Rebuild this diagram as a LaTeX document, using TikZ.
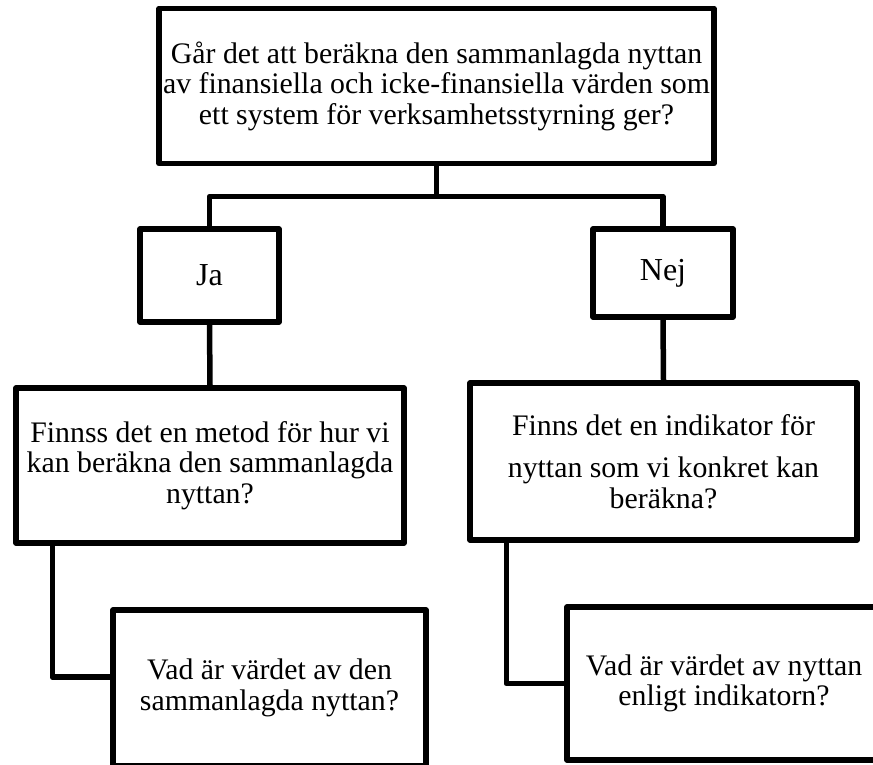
\documentclass[tikz,border=0pt]{standalone}
\usepackage{fontspec}
\setmainfont{Liberation Serif}
\begin{document}
\begin{tikzpicture}[x=1pt,y=-1pt,
  box/.style={draw=black, line width=5.5pt, line join=round, fill=white, inner sep=0pt,
    align=center, font=\fontsize{29.8}{30.5}\selectfont},
  small/.style={font=\fontsize{32}{34}\selectfont},
  link/.style={draw=black, line width=5.5pt, line join=round}]
\useasboundingbox (0,0) rectangle (873,764);
\clip (0,0) rectangle (873,764);

\node[box, minimum width=555pt, minimum height=155pt] (top) at (436.5,86)
  {Går det att beräkna den sammanlagda nyttan\\av finansiella och icke-finansiella värden som\\ett system för verksamhetsstyrning ger?};
\node[box, small, minimum width=139pt, minimum height=93pt] (ja) at (209.5,275.5) {Ja};
\node[box, small, minimum width=140pt, minimum height=88pt] (nej) at (663,273) {Nej};
\node[box, minimum width=388pt, minimum height=155pt] (left) at (210,465.5)
  {Finnss det en metod för hur vi\\kan beräkna den sammanlagda\\nyttan?};
\node[box, minimum width=387pt, minimum height=157pt] (right) at (663.5,461.5)
  {Finns det en indikator för\\[12pt]nyttan som vi konkret kan\\beräkna?};
\node[box, minimum width=313pt, minimum height=156pt] (bl) at (269.5,688)
  {Vad är värdet av den\\sammanlagda nyttan?};
\node[box, minimum width=314pt, minimum height=153pt] (br) at (724,683.5)
  {Vad är värdet av nyttan\\enligt indikatorn?};

\coordinate (split) at (436.5,196.5);
\draw[link] (top.south) -- (split);
\draw[link] (ja.north) |- (split) -| (nej.north);
\draw[link] (ja.south) -- (left.north);
\draw[link] (nej.south) -- (right.north);
\draw[link] ([xshift=39pt]left.south west) |- ([yshift=11pt]bl.west);
\draw[link] ([xshift=39pt]right.south west) |- (br.west);
\end{tikzpicture}
\end{document}
